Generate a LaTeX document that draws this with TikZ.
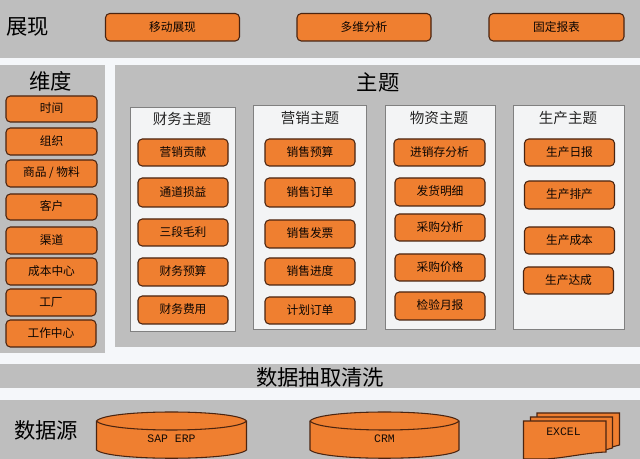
\documentclass[tikz,border=0pt]{standalone}
\usepackage{fontspec}
\setmainfont{Noto Sans CJK SC}
\newfontfamily\monof{Liberation Mono}
\definecolor{bandgray}{HTML}{BEBEBE}
\definecolor{pagewhite}{HTML}{F5F7FA}
\definecolor{btnorange}{HTML}{EF7F30}
\definecolor{btnline}{HTML}{4A2410}
\definecolor{panelfill}{HTML}{F3F4F5}
\definecolor{panelline}{HTML}{808080}
\tikzset{
  x=0.75pt,y=-0.75pt,
  band/.style={fill=bandgray,draw=none},
  btn/.style={fill=btnorange,draw=btnline,line width=0.8pt,rounded corners=3.2pt},
  panel/.style={fill=panelfill,draw=panelline,line width=0.7pt},
  btntext/.style={font=\fontsize{8.8pt}{10pt}\selectfont,text=black!85!btnline,inner sep=0pt},
  paneltitle/.style={font=\fontsize{10.9pt}{12pt}\selectfont,text=black!85,inner sep=0pt},
  bigtitle/.style={font=\fontsize{16pt}{18pt}\selectfont,text=black,inner sep=0pt},
  monotext/.style={font=\monof\fontsize{8.6pt}{10pt}\selectfont,text=black!70!btnline,inner sep=0pt},
}
% #1 name, #2 x0, #3 y0, #4 x1, #5 y1, #6 text
\newcommand{\btnbox}[6]{%
  \draw[btn] (#2,#3) rectangle (#4,#5);
  \node[btntext] (#1) at ({(#2+#4)/2},{(#3+#5)/2-0.5}) {#6};
}
\newcommand{\cyl}[4]{% name,x0,x1,text
  \draw[btn,rounded corners=0pt] (#2,421) -- (#2,450) .. controls (#2+12,461) and (#3-12,461) .. (#3,450) -- (#3,421)
     .. controls (#3-10,409) and (#2+10,409) .. (#2,421) -- cycle;
  \draw[btn,rounded corners=0pt] (#2,421) .. controls (#2+10,433) and (#3-10,433) .. (#3,421);
  \node[monotext] (#1) at ({(#2+#3)/2},439) {#4};
}
\begin{document}
\begin{tikzpicture}
\useasboundingbox (0,0) rectangle (640,459);
\fill[pagewhite] (0,0) rectangle (640,459);
\fill[band] (0,0) rectangle (640,58);
\fill[band] (0,65) rectangle (105,353);
\fill[band] (115,65) rectangle (640,347);
\fill[band] (0,364) rectangle (640,388);
\fill[band] (0,400) rectangle (640,459);

\node[bigtitle] (tZhanxian) at (28,27) {展现};
\node[bigtitle] (tWeidu) at (51,81) {维度};
\node[bigtitle] (tZhuti) at (378,82) {主题};
\node[bigtitle] (tChouqu) at (320,377) {数据抽取清洗};
\node[bigtitle] (tYuan) at (46,430) {数据源};

\btnbox{a1}{105.5}{13.5}{239.5}{41}{移动展现}
\btnbox{a2}{297}{13.5}{431}{41}{多维分析}
\btnbox{a3}{489}{13.5}{624}{41}{固定报表}

\btnbox{d1}{6}{96}{97}{122}{时间}
\btnbox{d2}{6}{128}{97}{155}{组织}
\btnbox{d3}{6}{160}{97}{187}{商品 / 物料}
\btnbox{d4}{6}{194}{97}{220}{客户}
\btnbox{d5}{6}{227}{97}{254}{渠道}
\btnbox{d6}{6}{258}{97}{285}{成本中心}
\btnbox{d7}{6}{289}{96}{316}{工厂}
\btnbox{d8}{6}{320}{96}{347}{工作中心}

\draw[panel] (130.5,107.5) rectangle (235.5,331);
\draw[panel] (253,105.5) rectangle (366.5,329);
\draw[panel] (385,105.5) rectangle (495,329);
\draw[panel] (513.5,105.5) rectangle (624,329);

\node[paneltitle] (p1) at (182,119) {财务主题};
\node[paneltitle] (p2) at (310,118) {营销主题};
\node[paneltitle] (p3) at (439,118) {物资主题};
\node[paneltitle] (p4) at (568,118) {生产主题};

\btnbox{f1}{138}{139}{228}{166}{营销贡献}
\btnbox{f2}{138}{178}{228}{207}{通道损益}
\btnbox{f3}{138}{219}{228}{246}{三段毛利}
\btnbox{f4}{138}{258}{228}{286}{财务预算}
\btnbox{f5}{138}{296}{228}{324}{财务费用}

\btnbox{s1}{265}{139}{355}{166}{销售预算}
\btnbox{s2}{265}{178}{355}{207}{销售订单}
\btnbox{s3}{265}{220}{355}{248}{销售发票}
\btnbox{s4}{265}{258}{355}{285}{销售进度}
\btnbox{s5}{265}{297}{355}{324}{计划订单}

\btnbox{m1}{394}{139}{485}{166}{进销存分析}
\btnbox{m2}{395}{178}{485}{206}{发货明细}
\btnbox{m3}{395}{214}{485}{241}{采购分析}
\btnbox{m4}{395}{254}{485}{281}{采购价格}
\btnbox{m5}{395}{292}{485}{320}{检验月报}

\btnbox{g1}{524.5}{139}{614.5}{166}{生产日报}
\btnbox{g2}{524.5}{181}{614.5}{209}{生产排产}
\btnbox{g3}{524.5}{227}{614.5}{254}{生产成本}
\btnbox{g4}{523.5}{267}{613.5}{294}{生产达成}

\cyl{c1}{96.5}{246.5}{SAP ERP}
\cyl{c2}{310}{459}{CRM}

\draw[btn,rounded corners=0pt] (537,413) -- (619.5,413) -- (619.5,445) -- (612,447) -- (537,447) -- cycle;
\draw[btn,rounded corners=0pt] (530.5,417) -- (612.5,417) -- (612.5,448) -- (605,450) -- (530.5,450) -- cycle;
\draw[btn,rounded corners=0pt] (523.5,421) -- (606,421) -- (606,452) .. controls (585,453) and (565,458) .. (545,459) -- (523.5,459) -- cycle;
\node[monotext] (c3) at (563.5,432) {EXCEL};
\end{tikzpicture}
\end{document}
